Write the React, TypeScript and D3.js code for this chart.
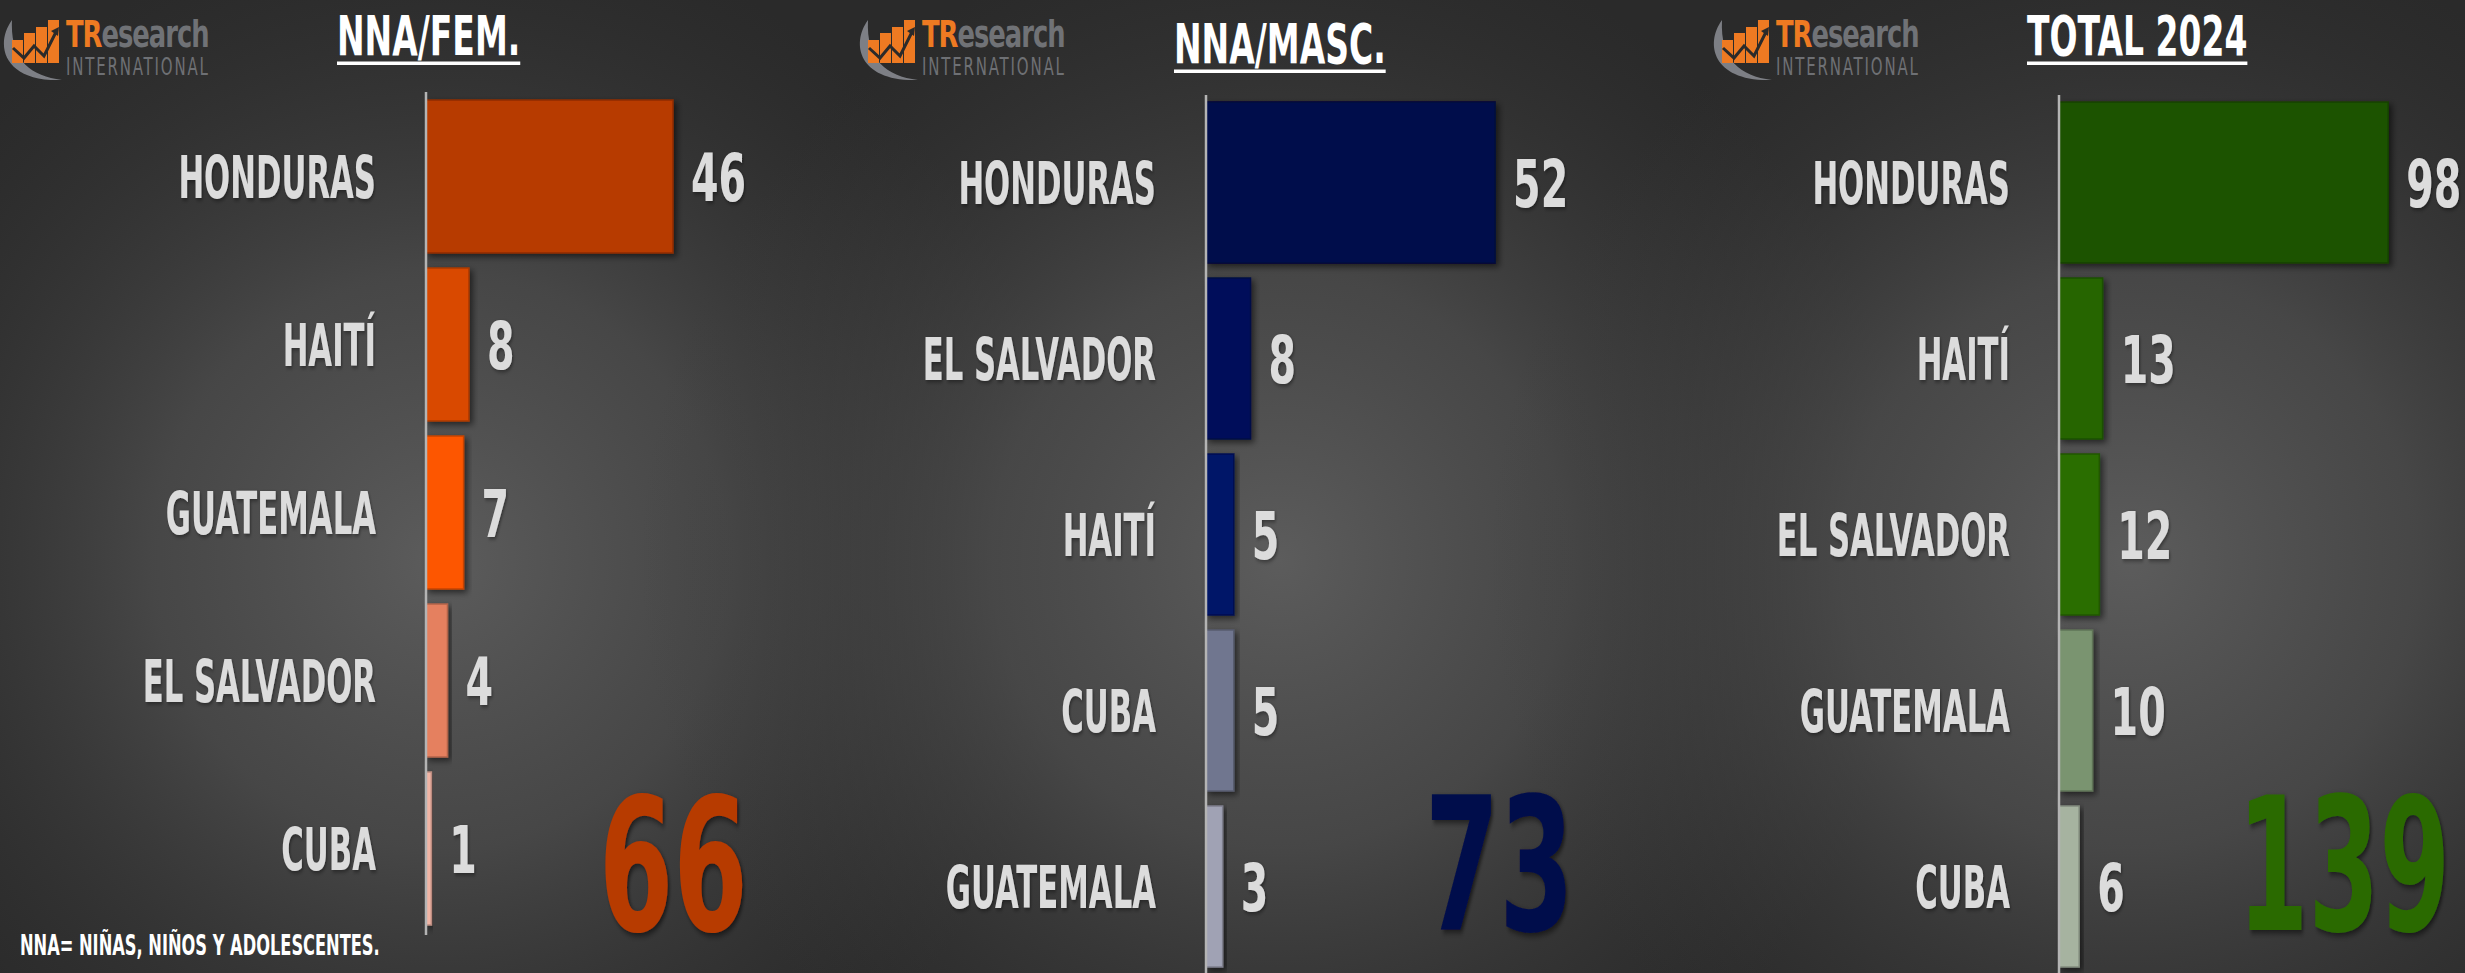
import React, { useEffect, useRef } from "react";
import * as d3 from "d3";

const W = 2465;
const H = 973;

// ---------- DATA ----------
const femCountries = ["HONDURAS", "HAITÍ", "GUATEMALA", "EL SALVADOR", "CUBA"];
const femValues = [46, 8, 7, 4, 1];
const femColors = ["#b73a00", "#d94a00", "#fd5600", "#e5805f", "#f0b4a4"];

const mascCountries = ["HONDURAS", "EL SALVADOR", "HAITÍ", "CUBA", "GUATEMALA"];
const mascValues = [52, 8, 5, 5, 3];
const mascColors = ["#000c4c", "#00105a", "#001468", "#70768f", "#a0a2b4"];

const totalCountries = ["HONDURAS", "HAITÍ", "EL SALVADOR", "GUATEMALA", "CUBA"];
const totalValues = [98, 13, 12, 10, 6];
const totalColors = ["#1e5200", "#256500", "#2b6e00", "#7a9470", "#a6b3a0"];

const titles = ["NNA/FEM.", "NNA/MASC.", "TOTAL 2024"];
const totalNumberColors = ["#b73a00", "#000c4c", "#2a6b00"];
const footnote = "NNA= NIÑAS, NIÑOS Y ADOLESCENTES.";

// ---------- LAYOUT ----------
const FONT = "'DejaVu Sans', sans-serif";
const layouts = [
  { axisX: 426, labelRight: 376, titleX: 337, titleBase: 55, underlineY: 63, bandTop: 100, step: 168, barH: 153, axisTop: 92, axisBottom: 935, pxPer100: 537, totalRight: 748, totalSx: 0.58, logoX: 0, gx: 440, gy: 560 },
  { axisX: 1206, labelRight: 1156, titleX: 1174, titleBase: 63, underlineY: 71, bandTop: 102, step: 176, barH: 161, axisTop: 95, axisBottom: 973, pxPer100: 556, totalRight: 1574, totalSx: 0.58, logoX: 856, gx: 1280, gy: 560 },
  { axisX: 2059, labelRight: 2010, titleX: 2027, titleBase: 55, underlineY: 63, bandTop: 102, step: 176, barH: 161, axisTop: 95, axisBottom: 973, pxPer100: 336, totalRight: 2450, totalSx: 0.55, logoX: 1710, gx: 2130, gy: 560 },
];

type G = d3.Selection<SVGGElement, unknown, null, undefined>;

function scaledText(
  g: G,
  x: number,
  y: number,
  text: string,
  o: { size: number; sx: number; anchor: string; fill: string; weight?: string; filter?: string; spacing?: number }
) {
  const t = g.append("g").attr("transform", `translate(${x},${y}) scale(${o.sx},1)`);
  if (o.filter) t.attr("filter", o.filter);
  const el = t
    .append("text")
    .attr("x", 0)
    .attr("y", 0)
    .attr("text-anchor", o.anchor)
    .attr("font-family", FONT)
    .attr("font-weight", o.weight ?? "bold")
    .attr("font-size", o.size)
    .attr("fill", o.fill)
    .text(text);
  if (o.spacing) el.attr("letter-spacing", o.spacing);
  return { g: t, el };
}

function drawLogo(g: G, x0: number) {
  const lg = g.append("g").attr("transform", `translate(${x0},0)`);
  lg.append("path")
    .attr("d", "M12,20 C-6,45 4,82 62,80 C30,76 10,60 12,20 Z")
    .attr("fill", "#7d7f85");
  const bars = [
    [12, 40],
    [24, 33],
    [36, 27],
    [48, 20],
  ];
  bars.forEach(([bx, top]) => {
    lg.append("rect").attr("x", bx).attr("y", top).attr("width", 11).attr("height", 63 - top).attr("fill", "#ee7a22");
  });
  lg.append("path")
    .attr("d", "M13,48 L24,58 L34,46 L44,56 L56,32")
    .attr("fill", "none")
    .attr("stroke", "#2a2a2a")
    .attr("stroke-width", 3);
  lg.append("path").attr("d", "M51,31 L59,27 L58,36 Z").attr("fill", "#2a2a2a");
  const t = lg.append("g").attr("transform", "translate(66,47) scale(0.68,1)");
  const txt = t.append("text").attr("font-family", FONT).attr("font-weight", "bold").attr("font-size", 38).attr("letter-spacing", -1.5);
  txt.append("tspan").attr("fill", "#ee7a22").text("TR");
  txt.append("tspan").attr("fill", "#707276").text("esearch");
  scaledText(lg, 66, 75, "INTERNATIONAL", { size: 25, sx: 0.6, anchor: "start", fill: "#6e7074", weight: "normal", spacing: 3 });
}

export default function App() {
  const ref = useRef<SVGSVGElement>(null);

  useEffect(() => {
    document.body.style.margin = "0";
    document.body.style.overflow = "hidden";
    const svg = d3.select(ref.current as SVGSVGElement);
    svg.selectAll("*").remove();
    const defs = svg.append("defs");

    const shadow = defs.append("filter").attr("id", "shadow").attr("x", "-20%").attr("y", "-20%").attr("width", "140%").attr("height", "140%");
    shadow.append("feDropShadow").attr("dx", 3).attr("dy", 3).attr("stdDeviation", 3).attr("flood-color", "#000").attr("flood-opacity", 0.55);
    const tshadow = defs.append("filter").attr("id", "tshadow").attr("x", "-20%").attr("y", "-20%").attr("width", "140%").attr("height", "140%");
    tshadow.append("feDropShadow").attr("dx", 2).attr("dy", 2).attr("stdDeviation", 2).attr("flood-color", "#000").attr("flood-opacity", 0.4);

    const root = svg.append("g") as unknown as G;
    root.append("rect").attr("width", W).attr("height", H).attr("fill", "#2a2a2a");

    layouts.forEach((L, i) => {
      const grad = defs
        .append("radialGradient")
        .attr("id", `bg${i}`)
        .attr("gradientUnits", "userSpaceOnUse")
        .attr("cx", L.gx)
        .attr("cy", L.gy)
        .attr("r", 640);
      grad.append("stop").attr("offset", 0).attr("stop-color", "#5c5c5c").attr("stop-opacity", 1);
      grad.append("stop").attr("offset", 0.45).attr("stop-color", "#505050").attr("stop-opacity", 0.75);
      grad.append("stop").attr("offset", 1).attr("stop-color", "#3a3a3a").attr("stop-opacity", 0);
      root.append("rect").attr("width", W).attr("height", H).attr("fill", `url(#bg${i})`);
    });

    const datasets = [
      { countries: femCountries, values: femValues, colors: femColors },
      { countries: mascCountries, values: mascValues, colors: mascColors },
      { countries: totalCountries, values: totalValues, colors: totalColors },
    ];

    datasets.forEach((d, i) => {
      const L = layouts[i];
      const g = root.append("g") as unknown as G;

      drawLogo(g, L.logoX);

      const tt = scaledText(g, L.titleX, L.titleBase, titles[i], { size: 55, sx: 0.6, anchor: "start", fill: "#ffffff" });
      const tw = (tt.el.node() as SVGTextElement).getComputedTextLength() * 0.6;
      g.append("rect").attr("x", L.titleX).attr("y", L.underlineY - 1.5).attr("width", tw).attr("height", 3.5).attr("fill", "#ffffff");

      const y = d3
        .scaleBand<string>()
        .domain(d.countries)
        .range([L.bandTop, L.bandTop + d.countries.length * L.step - (L.step - L.barH)])
        .paddingInner((L.step - L.barH) / L.step)
        .paddingOuter(0);
      const x = d3.scaleLinear().domain([0, 100]).range([L.axisX, L.axisX + L.pxPer100]);

      d.countries.forEach((c, j) => {
        const v = d.values[j];
        const col = d.colors[j];
        g.append("rect")
          .attr("x", x(0))
          .attr("y", y(c)!)
          .attr("width", x(v) - x(0))
          .attr("height", y.bandwidth())
          .attr("fill", col)
          .attr("stroke", d3.color(col)!.darker(0.7).formatHex())
          .attr("stroke-width", 1.5)
          .attr("filter", "url(#shadow)");
        const cy = y(c)! + y.bandwidth() / 2;
        scaledText(g, L.labelRight, cy + 21, c, { size: 58, sx: 0.53, anchor: "end", fill: "#dcdcdc", filter: "url(#tshadow)" });
        scaledText(g, x(v) + 18, cy + 24, String(v), { size: 66, sx: 0.6, anchor: "start", fill: "#dcdcdc", filter: "url(#tshadow)" });
      });

      g.append("line")
        .attr("x1", L.axisX)
        .attr("x2", L.axisX)
        .attr("y1", L.axisTop)
        .attr("y2", L.axisBottom)
        .attr("stroke", "#b4b4b4")
        .attr("stroke-width", 2.5);

      scaledText(g, L.totalRight, 930, String(d3.sum(d.values)), {
        size: 185,
        sx: L.totalSx,
        anchor: "end",
        fill: totalNumberColors[i],
        filter: "url(#shadow)",
      });
    });

    scaledText(root, 20, 955, footnote, { size: 29, sx: 0.56, anchor: "start", fill: "#ffffff" });
  }, []);

  return <svg ref={ref} width={W} height={H} style={{ display: "block" }} />;
}
